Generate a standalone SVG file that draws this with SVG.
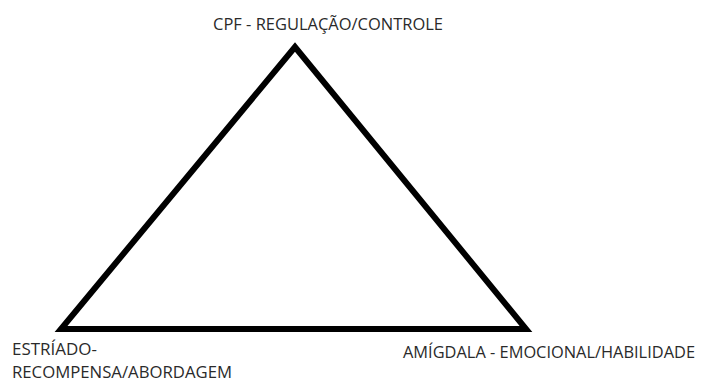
<svg xmlns="http://www.w3.org/2000/svg" width="703" height="383" viewBox="0 0 703 383">
<style>
.lbl{font-family:"Open Sans","Liberation Sans",sans-serif;font-size:14px;fill:#2a2a2a}
.edge{fill:none;stroke:#000;stroke-width:6;stroke-linejoin:miter}
</style>
<rect width="703" height="383" fill="#fff"/>
<g id="connectors">
<polygon class="edge" points="295,47 61,329 526,329"/>
</g>
<g id="cpf"><text class="lbl" transform="translate(213,30) scale(1,1.2)" x="0" y="0" textLength="230" lengthAdjust="spacingAndGlyphs">CPF - REGULAÇÃO/CONTROLE</text></g>
<g id="estriado">
<text class="lbl" transform="translate(12,355) scale(1,1.2)"><tspan x="0" y="0" textLength="85" lengthAdjust="spacingAndGlyphs">ESTRÍADO-</tspan><tspan x="0" y="19.1" textLength="220" lengthAdjust="spacingAndGlyphs">RECOMPENSA/ABORDAGEM</tspan></text>
</g>
<g id="amigdala"><text class="lbl" transform="translate(403,358) scale(1,1.2)" x="0" y="0" textLength="292" lengthAdjust="spacingAndGlyphs">AMÍGDALA - EMOCIONAL/HABILIDADE</text></g>
</svg>
